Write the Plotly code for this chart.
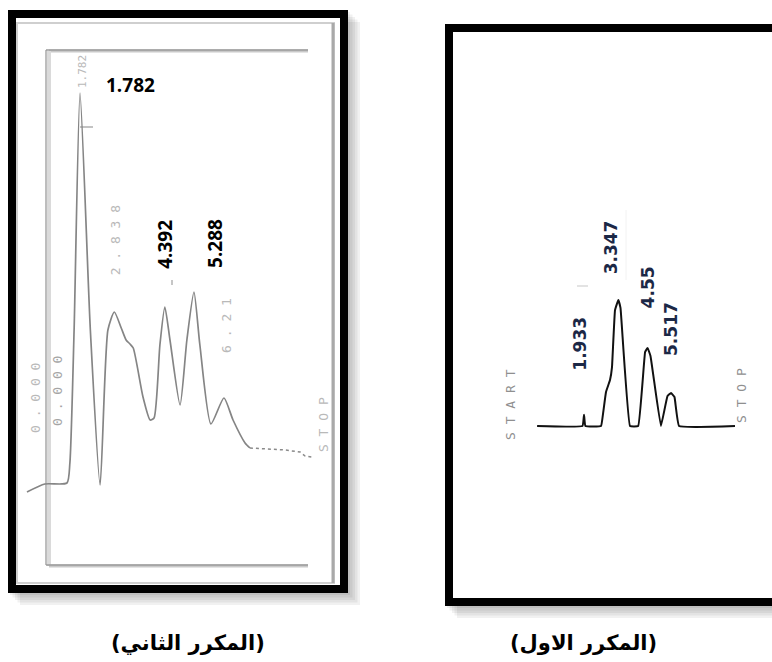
import plotly.graph_objects as go

W, H = 772, 662

# ---------------- data ----------------
# Second replicate (left panel) - retention time (min) / detector signal (a.u.)
rep2_time = [0.15, 0.70, 1.38, 1.47, 1.60, 1.782, 2.10, 2.40, 2.64, 2.838, 3.05, 3.20,
             3.32, 3.42, 3.72, 3.94, 4.06, 4.24, 4.392, 4.55, 4.86, 5.07, 5.288, 5.47,
             5.81, 6.21, 6.49, 6.86, 7.01]
rep2_signal = [0, 2, 2.25, 7.25, 40.5, 99.75, 40.5, 1.75, 40.5, 45, 41, 38,
               37, 36, 23.75, 18, 18.5, 36.75, 46.25, 38, 21.75, 38, 50, 36.75,
               17, 23.5, 18, 12.25, 11]
rep2_tail_time = [7.01, 7.60, 8.10, 8.55, 8.71, 8.92]
rep2_tail_signal = [11, 10.75, 10.5, 10, 9, 8.75]
rep2_peaks = ["1.782", "4.392", "5.288"]
rep2_peak_time = [1.782, 4.392, 5.288]
rep2_peak_signal = [99.75, 46.25, 50]
rep2_print_labels = ["2.838", "6.21"]
rep2_print_time = [2.838, 6.21]
rep2_print_signal = [45, 23.5]

# First replicate (right panel)
rep1_time = [0.0, 1.87, 1.933, 1.99, 2.633, 2.715, 2.839, 3.004, 3.086, 3.21, 3.347,
             3.436, 3.828, 4.165, 4.45, 4.55, 4.672, 5.10, 5.373, 5.517, 5.661, 5.85, 8.154]
rep1_signal = [0, 0, 9, 0, 0, 9.5, 27, 36.5, 46.8, 92, 100,
               93.7, 0, 0, 58.7, 62, 55.6, 0, 23.8, 26.2, 23, 0, 0]
rep1_peaks = ["1.933", "3.347", "4.55", "5.517"]
rep1_peak_time = [1.933, 3.347, 4.55, 5.517]
rep1_peak_signal = [9, 100, 62, 26.2]

captions = ["(المكرر الثاني)", "(المكرر الاول)"]

# ---------------- helpers (pixel -> paper) ----------------
def px(x):
    return x / W

def py(y):
    return 1 - y / H

fig = go.Figure()

fig.add_trace(go.Scatter(x=rep2_time, y=rep2_signal, mode="lines",
                         line=dict(color="#858585", width=1.7, shape="spline", smoothing=0.6),
                         xaxis="x", yaxis="y", hoverinfo="skip"))
fig.add_trace(go.Scatter(x=rep2_tail_time, y=rep2_tail_signal, mode="lines",
                         line=dict(color="#8a8a8a", width=1.5, dash="dot"),
                         xaxis="x", yaxis="y", hoverinfo="skip"))
fig.add_trace(go.Scatter(x=rep1_time, y=rep1_signal, mode="lines",
                         line=dict(color="#111111", width=2.0, shape="spline", smoothing=0.25),
                         xaxis="x2", yaxis="y2", hoverinfo="skip"))

# ---------------- frames ----------------
shapes = []
def rect(x0, y0, x1, y1, **kw):
    d = dict(type="rect", xref="paper", yref="paper",
             x0=px(x0), x1=px(x1), y0=py(y1), y1=py(y0), layer="below")
    d.update(kw)
    shapes.append(d)

def seg(x0, y0, x1, y1, color, width):
    shapes.append(dict(type="line", xref="paper", yref="paper",
                       x0=px(x0), x1=px(x1), y0=py(y0), y1=py(y1), layer="below",
                       line=dict(color=color, width=width)))

# shadows
for i in range(5):
    o = 2 + 2.5 * i
    rect(8 + o, 10 + o, 348 + o, 593 + o, fillcolor="rgba(0,0,0,0.055)", line=dict(width=0))
    rect(445 + o, 24 + o, 800, 606 + o, fillcolor="rgba(0,0,0,0.055)", line=dict(width=0))

# white panels
rect(8, 10, 348, 593, fillcolor="white", line=dict(width=0))
rect(445, 24, 800, 606, fillcolor="white", line=dict(width=0))

# scanned-image border in the left panel
rect(17, 23, 334, 583, fillcolor="rgba(0,0,0,0)", line=dict(color="#cfcfcf", width=2))
seg(333, 23, 333, 583, "#a9a9a9", 3)
# inner chart box (three sided)
seg(49, 51, 308, 51, "#c9c9c9", 3)
seg(49, 51, 49, 566, "#dadada", 4)
seg(49, 566, 308, 566, "#c9c9c9", 3)
seg(46, 50, 308, 50, "#9a9a9a", 1.3)
seg(46, 50, 46, 565, "#9a9a9a", 1.3)
seg(46, 565, 308, 565, "#9a9a9a", 1.3)

# black frames
rect(12, 14, 344, 589, fillcolor="rgba(0,0,0,0)", line=dict(color="black", width=8))
rect(449, 28, 810, 602, fillcolor="rgba(0,0,0,0)", line=dict(color="black", width=8))

# small retention markers of the original print-outs
seg(80, 127, 93, 127, "#9a9a9a", 1.2)
seg(172, 280, 172, 285, "#a0a0a0", 1.2)
seg(577, 286, 588, 286, "#d0d0d0", 1.2)
seg(626, 210, 626, 280, "#f2f2f2", 1.0)

# ---------------- annotations ----------------
ann = []
# bold peak labels, left panel
shifts2 = [(50, 8, 0), (0, 63, -90), (21, 49, -90)]
for lab, t, v, (dx, dy, ang) in zip(rep2_peaks, rep2_peak_time, rep2_peak_signal, shifts2):
    ann.append(dict(x=t, y=v, xref="x", yref="y", text=lab, showarrow=False,
                    xshift=dx, yshift=dy, textangle=ang,
                    font=dict(family="Open Sans", size=19, color="black", weight="bold")))

grey = dict(family="DejaVu Sans Mono", size=13, color="#b9b9b9")
# faded print-out labels, left panel
ann.append(dict(x=rep2_peak_time[0], y=rep2_peak_signal[0], xref="x", yref="y", text="1.782",
                showarrow=False, xshift=3, yshift=21, textangle=-90,
                font=dict(family="DejaVu Sans Mono", size=11, color="#b9b9b9")))
for lab, t, v, dx, dy in zip(rep2_print_labels, rep2_print_time, rep2_print_signal, [1, 2], [72, 73]):
    ann.append(dict(x=t, y=v, xref="x", yref="y", text=" ".join(lab), showarrow=False,
                    xshift=dx, yshift=dy, textangle=-90, font=grey))
ann.append(dict(x=0.397, y=23.5, xref="x", yref="y", text=" ".join("0.000"), showarrow=False,
                textangle=-90, font=grey))
ann.append(dict(x=1.074, y=25.25, xref="x", yref="y", text=" ".join("0.000"), showarrow=False,
                textangle=-90, font=dict(family="DejaVu Sans Mono", size=13, color="#a5a5a5")))
ann.append(dict(x=9.26, y=16.75, xref="x", yref="y", text=" ".join("STOP"), showarrow=False,
                textangle=-90, font=grey))

# right panel labels
shifts1 = [(-4, 71), (-7, 53), (0, 60), (0, 64)]
for lab, t, v, (dx, dy) in zip(rep1_peaks, rep1_peak_time, rep1_peak_signal, shifts1):
    ann.append(dict(x=t, y=v, xref="x2", yref="y2", text=lab, showarrow=False,
                    xshift=dx, yshift=dy, textangle=-90,
                    font=dict(family="DejaVu Sans", size=17, color="#1c2846", weight="bold")))
ann.append(dict(x=-1.075, y=16.7, xref="x2", yref="y2", text=" ".join("START"), showarrow=False,
                textangle=-90, font=dict(family="DejaVu Sans Mono", size=13, color="#8f8f8f")))
ann.append(dict(x=8.4, y=24.6, xref="x2", yref="y2", text=" ".join("STOP"), showarrow=False,
                textangle=-90, font=dict(family="DejaVu Sans Mono", size=13, color="#8f8f8f")))

# captions
for cap, cx in zip(captions, [188, 583]):
    ann.append(dict(x=px(cx), y=py(643), xref="paper", yref="paper", text=cap, showarrow=False,
                    xanchor="center", yanchor="middle",
                    font=dict(family="DejaVu Sans", size=21, color="black", weight="bold")))

noax = dict(visible=False, showgrid=False, zeroline=False, fixedrange=True)
fig.update_layout(
    width=W, height=H, margin=dict(l=0, r=0, t=0, b=0),
    paper_bgcolor="white", plot_bgcolor="rgba(0,0,0,0)", showlegend=False,
    xaxis=dict(domain=[px(8), px(348)], range=[(8 - 22.1) / 32.5, (348 - 22.1) / 32.5], **noax),
    yaxis=dict(domain=[py(592), py(10)], range=[(492 - 592) / 4, (492 - 10) / 4], **noax),
    xaxis2=dict(domain=[px(445), 1], range=[(445 - 537.1) / 24.27, (772 - 537.1) / 24.27], **noax),
    yaxis2=dict(domain=[py(605), py(24)], range=[(426 - 605) / 1.26, (426 - 24) / 1.26], **noax),
    shapes=shapes, annotations=ann,
)

fig.write_html("out.html", config={"displayModeBar": False},
               post_script="document.body.style.margin='0px';document.body.style.overflow='hidden';")
